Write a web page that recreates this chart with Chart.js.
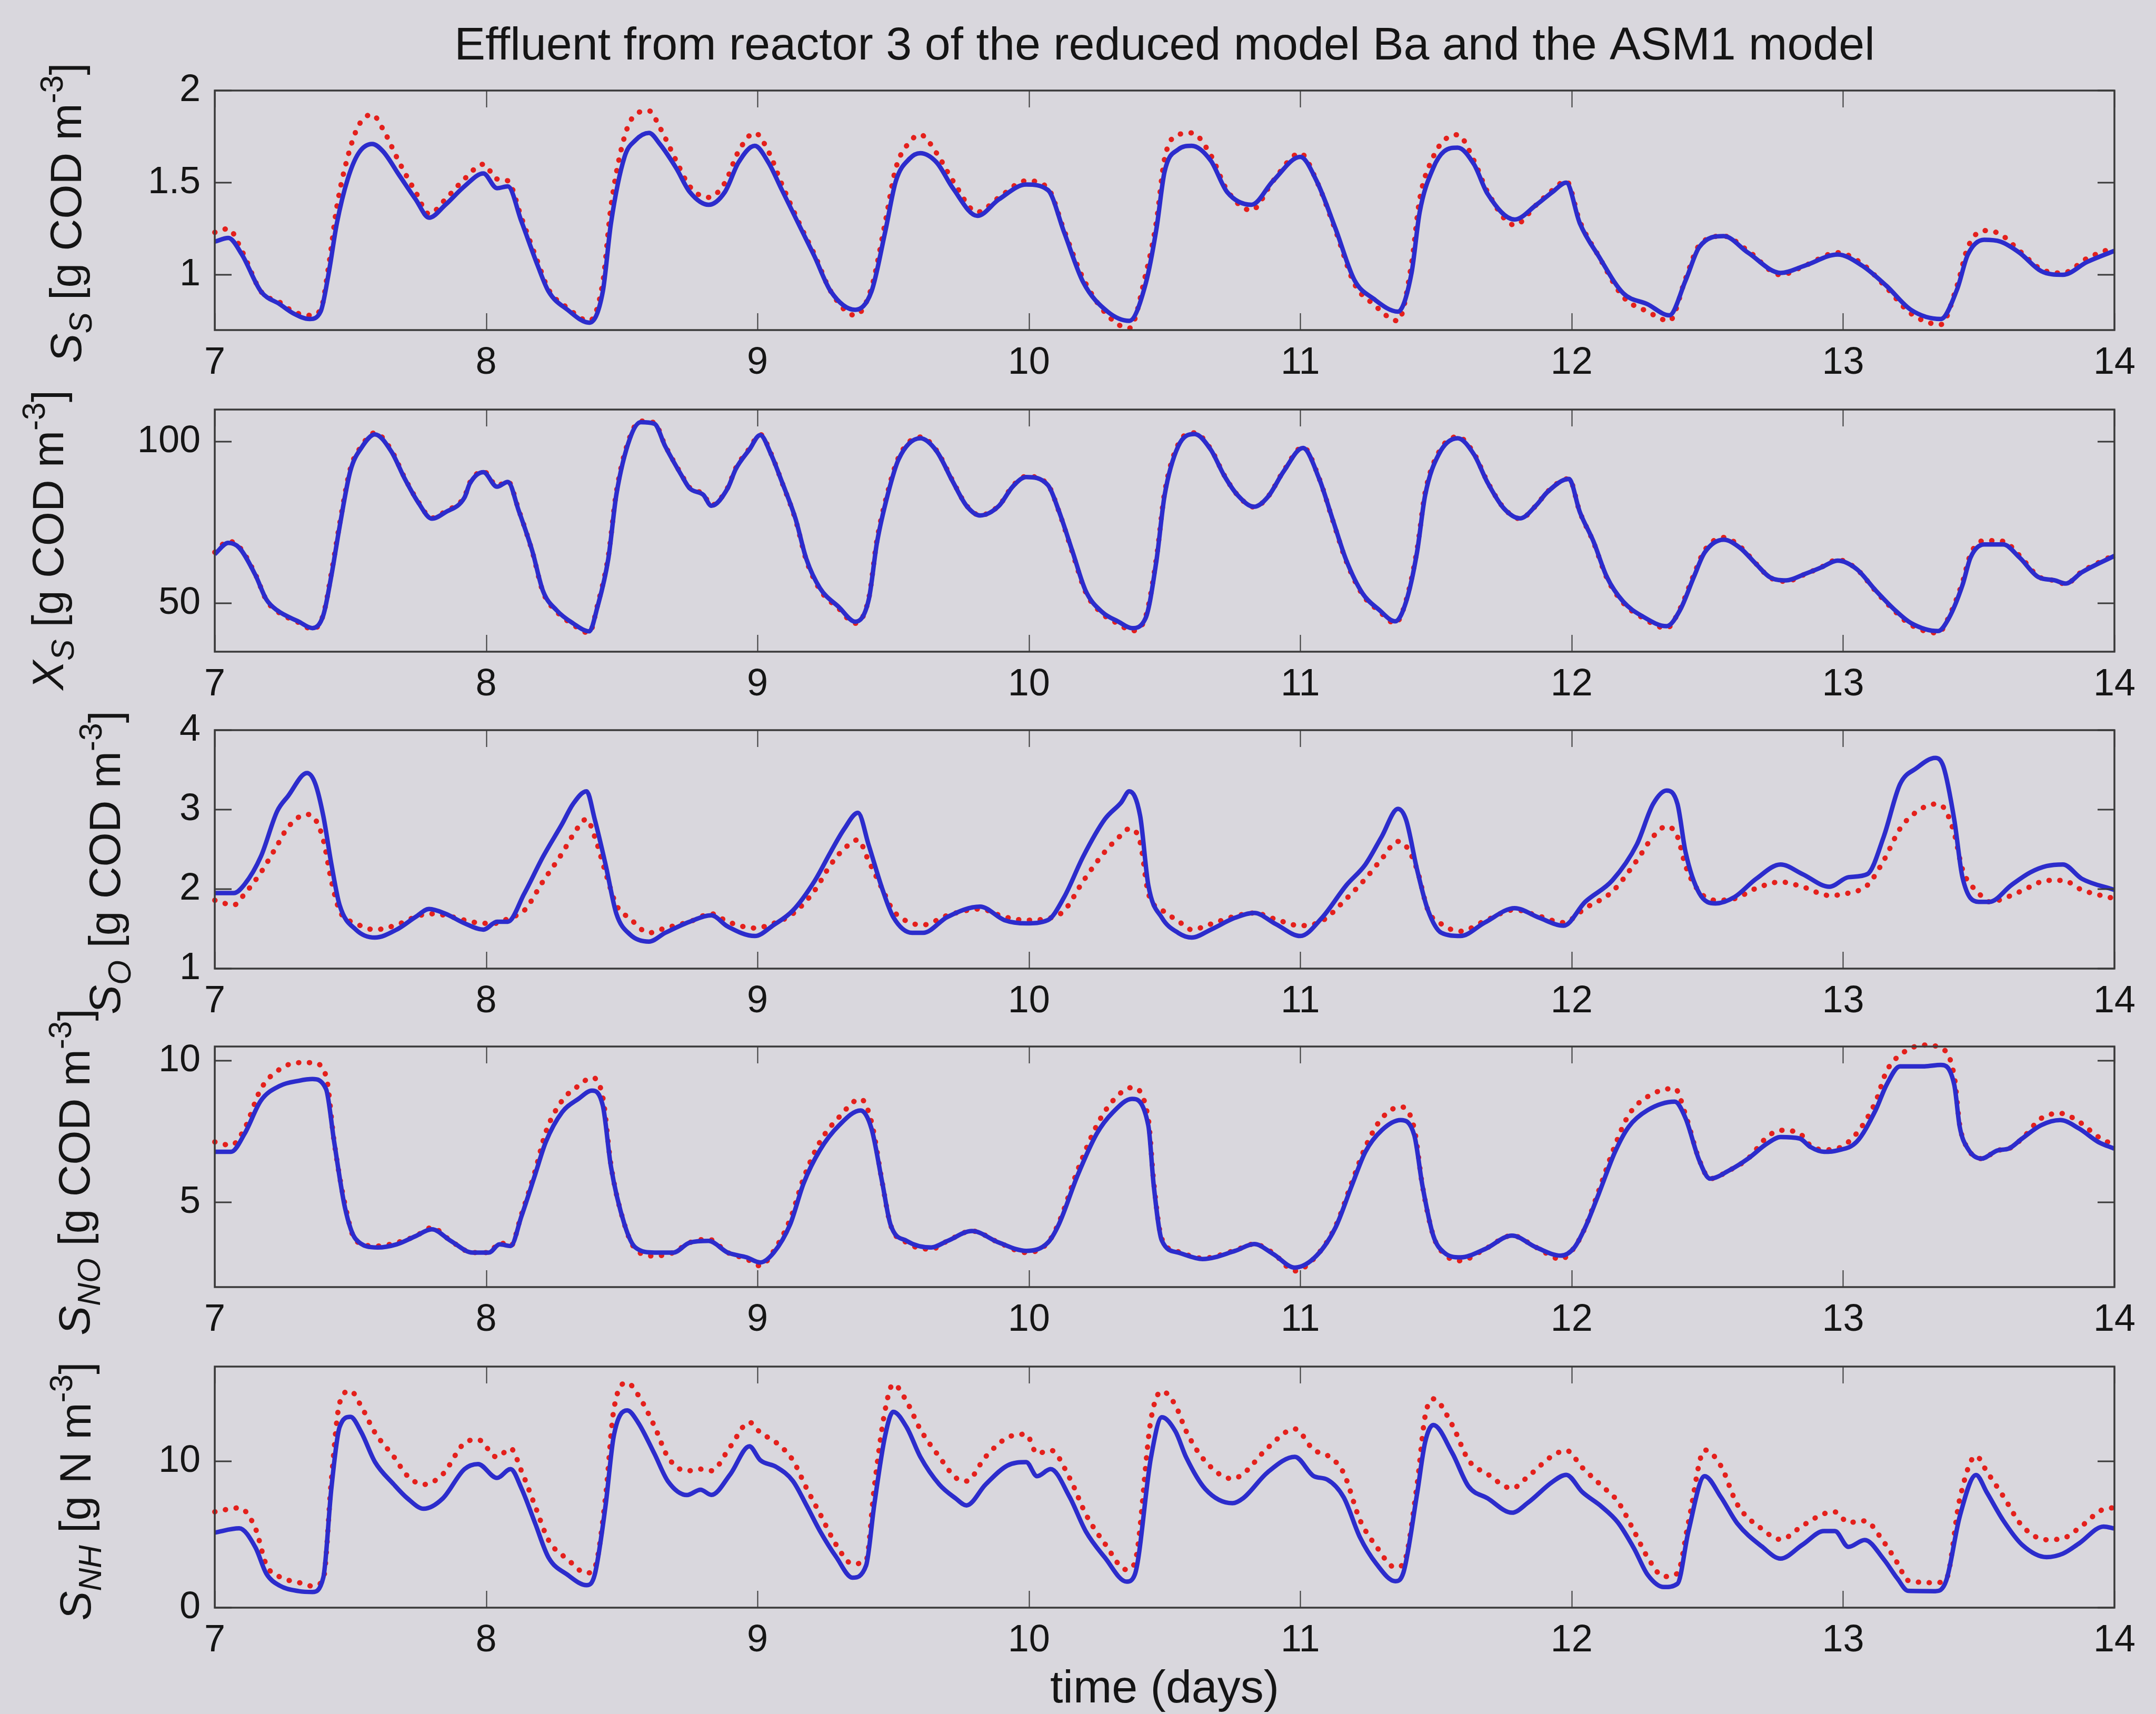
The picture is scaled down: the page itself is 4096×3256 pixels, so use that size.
<!DOCTYPE html>
<html>
<head>
<meta charset="utf-8">
<title>Effluent from reactor 3</title>
<script src="https://cdn.jsdelivr.net/npm/chart.js@4.4.1/dist/chart.umd.min.js"></script>
<style>
  html, body { margin: 0; padding: 0; background: #d9d7dd; }
  body { width: 4096px; height: 3256px; position: relative; overflow: hidden; }
  canvas { position: absolute; left: 0; }
</style>
</head>
<body>
<canvas id="panel-ss"></canvas>
<canvas id="panel-xs"></canvas>
<canvas id="panel-so"></canvas>
<canvas id="panel-sno"></canvas>
<canvas id="panel-snh"></canvas>
<script>
// ---- S_S : readily biodegradable substrate ----
const ssTime = [7.00, 7.05, 7.10, 7.17, 7.24, 7.29, 7.35, 7.39, 7.42, 7.45,
  7.49, 7.53, 7.58, 7.62, 7.68, 7.74, 7.79, 7.85, 7.92, 7.99,
  8.04, 8.08, 8.13, 8.19, 8.23, 8.30, 8.38, 8.43, 8.46, 8.51,
  8.55, 8.60, 8.64, 8.70, 8.75, 8.82, 8.88, 8.93, 8.99, 9.04,
  9.09, 9.16, 9.21, 9.27, 9.36, 9.42, 9.47, 9.51, 9.56, 9.60,
  9.66, 9.72, 9.81, 9.89, 9.99, 10.07, 10.13, 10.20, 10.29, 10.37,
  10.43, 10.47, 10.50, 10.55, 10.60, 10.67, 10.73, 10.82, 10.90, 11.00,
  11.06, 11.13, 11.20, 11.27, 11.36, 11.41, 11.44, 11.49, 11.53, 11.58,
  11.64, 11.69, 11.79, 11.87, 11.93, 11.98, 12.03, 12.10, 12.19, 12.28,
  12.36, 12.42, 12.47, 12.56, 12.65, 12.77, 12.86, 12.98, 13.07, 13.16,
  13.25, 13.36, 13.42, 13.46, 13.52, 13.58, 13.65, 13.73, 13.81, 13.90,
  14.00];
const ssBlue = [1.18, 1.20, 1.11, 0.91, 0.84, 0.79, 0.76, 0.80, 1.01, 1.28,
  1.52, 1.66, 1.71, 1.67, 1.54, 1.41, 1.31, 1.38, 1.48, 1.55,
  1.47, 1.48, 1.29, 1.05, 0.91, 0.81, 0.74, 0.91, 1.28, 1.64,
  1.73, 1.77, 1.71, 1.58, 1.45, 1.38, 1.45, 1.61, 1.70, 1.61,
  1.46, 1.25, 1.10, 0.91, 0.81, 0.91, 1.23, 1.51, 1.63, 1.66,
  1.61, 1.47, 1.32, 1.41, 1.49, 1.46, 1.23, 0.96, 0.80, 0.75,
  0.95, 1.25, 1.56, 1.68, 1.70, 1.62, 1.45, 1.38, 1.51, 1.64,
  1.51, 1.25, 0.97, 0.87, 0.80, 1.01, 1.34, 1.58, 1.67, 1.69,
  1.60, 1.44, 1.30, 1.38, 1.45, 1.50, 1.28, 1.10, 0.90, 0.84,
  0.78, 0.97, 1.15, 1.21, 1.12, 1.01, 1.05, 1.11, 1.05, 0.94,
  0.81, 0.76, 0.92, 1.11, 1.19, 1.18, 1.12, 1.02, 1.00, 1.07,
  1.13];
const ssRed = [1.23, 1.25, 1.13, 0.91, 0.85, 0.80, 0.78, 0.81, 1.05, 1.37,
  1.64, 1.81, 1.87, 1.79, 1.61, 1.45, 1.33, 1.41, 1.52, 1.60,
  1.52, 1.51, 1.31, 1.07, 0.92, 0.82, 0.75, 0.96, 1.37, 1.75,
  1.87, 1.89, 1.80, 1.62, 1.48, 1.42, 1.50, 1.67, 1.77, 1.67,
  1.49, 1.26, 1.11, 0.91, 0.78, 0.93, 1.28, 1.58, 1.72, 1.76,
  1.66, 1.51, 1.34, 1.42, 1.51, 1.47, 1.24, 0.98, 0.78, 0.71,
  1.00, 1.29, 1.63, 1.76, 1.77, 1.65, 1.46, 1.35, 1.51, 1.66,
  1.51, 1.24, 0.95, 0.84, 0.75, 1.06, 1.41, 1.64, 1.73, 1.76,
  1.62, 1.45, 1.27, 1.38, 1.46, 1.51, 1.29, 1.10, 0.88, 0.80,
  0.75, 0.98, 1.16, 1.21, 1.13, 1.00, 1.05, 1.12, 1.06, 0.93,
  0.79, 0.73, 0.94, 1.15, 1.24, 1.22, 1.13, 1.03, 1.01, 1.09,
  1.15];
const ssTicks = [1, 1.5, 2];

// ---- X_S : slowly biodegradable substrate ----
const xsTime = [7.00, 7.05, 7.09, 7.15, 7.19, 7.23, 7.31, 7.36, 7.40, 7.43,
  7.46, 7.50, 7.54, 7.59, 7.65, 7.70, 7.75, 7.80, 7.85, 7.92,
  7.94, 7.99, 8.04, 8.08, 8.12, 8.17, 8.21, 8.26, 8.32, 8.38,
  8.41, 8.45, 8.48, 8.53, 8.57, 8.62, 8.66, 8.72, 8.75, 8.80,
  8.83, 8.89, 8.92, 8.97, 9.01, 9.05, 9.09, 9.14, 9.18, 9.23,
  9.30, 9.36, 9.41, 9.44, 9.48, 9.52, 9.60, 9.66, 9.72, 9.77,
  9.82, 9.89, 9.94, 9.99, 10.07, 10.11, 10.16, 10.21, 10.27, 10.33,
  10.38, 10.43, 10.47, 10.50, 10.55, 10.61, 10.67, 10.72, 10.77, 10.83,
  10.88, 10.94, 11.01, 11.07, 11.12, 11.17, 11.23, 11.29, 11.35, 11.39,
  11.43, 11.46, 11.51, 11.58, 11.64, 11.69, 11.75, 11.81, 11.87, 11.91,
  11.99, 12.03, 12.08, 12.13, 12.19, 12.26, 12.35, 12.40, 12.45, 12.49,
  12.56, 12.62, 12.68, 12.73, 12.79, 12.86, 12.92, 12.98, 13.05, 13.12,
  13.19, 13.25, 13.35, 13.39, 13.44, 13.47, 13.52, 13.59, 13.65, 13.72,
  13.78, 13.82, 13.88, 14.00];
const xsBlue = [65.2, 68.7, 67.2, 58.7, 51.2, 47.8, 44.3, 42.3, 46.3, 58.7,
  73.7, 91.1, 98.1, 102.3, 97.1, 88.6, 81.2, 76.2, 78.2, 82.7,
  87.1, 90.6, 86.1, 87.6, 78.7, 66.2, 53.7, 47.8, 43.8, 41.3,
  48.8, 63.7, 83.7, 101.1, 106.1, 105.6, 98.6, 89.6, 85.6, 83.6,
  80.2, 85.6, 91.6, 97.6, 102.1, 96.1, 87.6, 76.2, 63.7, 54.7,
  48.8, 44.3, 51.2, 68.7, 83.7, 94.6, 101.1, 97.1, 87.6, 80.2,
  77.2, 80.2, 86.1, 89.1, 86.6, 78.7, 66.2, 53.7, 47.3, 44.3,
  42.3, 45.4, 63.2, 83.4, 98.6, 102.4, 97.6, 89.5, 83.4, 79.9,
  82.9, 91.0, 98.1, 88.5, 75.8, 63.2, 53.0, 48.0, 44.4, 50.5,
  65.7, 83.4, 96.1, 101.1, 96.1, 87.4, 79.4, 76.3, 80.4, 84.4,
  88.5, 78.3, 69.2, 58.1, 50.5, 46.0, 42.9, 48.0, 58.1, 65.7,
  69.7, 67.2, 62.1, 58.1, 57.1, 59.1, 61.1, 63.2, 60.6, 54.0,
  48.0, 43.9, 41.4, 45.4, 55.6, 64.2, 68.2, 68.2, 64.2, 58.1,
  57.1, 56.1, 59.6, 64.7];
const xsRed = [65.8, 69.2, 67.5, 58.9, 51.0, 47.5, 44.0, 42.0, 46.5, 59.5,
  74.5, 91.8, 98.6, 102.8, 97.5, 88.8, 81.4, 76.4, 78.5, 83.0,
  87.4, 90.9, 86.4, 87.8, 78.9, 66.0, 53.4, 47.4, 43.4, 40.8,
  49.3, 64.5, 84.5, 101.6, 106.4, 105.9, 98.8, 89.8, 85.8, 83.8,
  80.4, 85.8, 91.9, 97.9, 102.3, 96.3, 87.5, 75.9, 63.3, 54.2,
  48.3, 43.8, 51.6, 69.5, 84.5, 95.2, 101.5, 97.3, 87.8, 80.3,
  77.3, 80.3, 86.3, 89.3, 86.7, 78.6, 65.8, 53.3, 46.8, 43.6,
  41.5, 45.8, 64.0, 84.2, 99.2, 102.8, 97.8, 89.6, 83.4, 79.8,
  82.9, 91.2, 98.4, 88.6, 75.6, 62.9, 52.6, 47.6, 43.8, 50.9,
  66.5, 84.2, 96.7, 101.6, 96.4, 87.6, 79.5, 76.2, 80.4, 84.5,
  88.6, 78.3, 69.0, 57.8, 50.1, 45.6, 42.3, 48.4, 58.8, 66.4,
  70.4, 67.6, 62.2, 58.0, 56.8, 59.0, 61.2, 63.5, 60.6, 53.8,
  47.6, 43.3, 40.8, 45.8, 56.5, 65.2, 69.4, 69.2, 64.8, 58.3,
  57.0, 56.0, 59.8, 65.0];
const xsTicks = [50, 100];

// ---- S_O : dissolved oxygen ----
const soTime = [7.00, 7.07, 7.11, 7.17, 7.23, 7.27, 7.34, 7.37, 7.40, 7.43,
  7.46, 7.52, 7.59, 7.67, 7.74, 7.79, 7.85, 7.92, 7.99, 8.04,
  8.08, 8.14, 8.21, 8.28, 8.32, 8.37, 8.40, 8.44, 8.48, 8.53,
  8.60, 8.66, 8.75, 8.83, 8.89, 8.99, 9.06, 9.13, 9.21, 9.27,
  9.32, 9.37, 9.41, 9.46, 9.50, 9.57, 9.61, 9.70, 9.82, 9.91,
  9.99, 10.07, 10.13, 10.20, 10.28, 10.34, 10.37, 10.41, 10.44, 10.49,
  10.55, 10.60, 10.67, 10.76, 10.83, 10.91, 11.00, 11.08, 11.17, 11.24,
  11.30, 11.36, 11.39, 11.43, 11.47, 11.52, 11.59, 11.68, 11.79, 11.88,
  11.97, 12.05, 12.15, 12.24, 12.30, 12.35, 12.39, 12.42, 12.47, 12.53,
  12.60, 12.68, 12.77, 12.85, 12.95, 13.02, 13.09, 13.15, 13.21, 13.27,
  13.34, 13.37, 13.41, 13.44, 13.50, 13.54, 13.62, 13.69, 13.75, 13.81,
  13.88, 14.00];
const soBlue = [1.95, 1.95, 2.06, 2.41, 2.98, 3.17, 3.46, 3.33, 2.92, 2.31,
  1.80, 1.49, 1.39, 1.49, 1.65, 1.75, 1.69, 1.57, 1.49, 1.59,
  1.59, 1.94, 2.41, 2.82, 3.07, 3.23, 2.88, 2.31, 1.69, 1.43,
  1.34, 1.45, 1.59, 1.67, 1.53, 1.41, 1.55, 1.73, 2.10, 2.47,
  2.76, 2.96, 2.55, 2.00, 1.65, 1.45, 1.45, 1.65, 1.78, 1.61,
  1.57, 1.61, 1.90, 2.41, 2.88, 3.09, 3.23, 2.92, 2.05, 1.64,
  1.45, 1.39, 1.49, 1.64, 1.70, 1.56, 1.41, 1.64, 2.05, 2.31,
  2.66, 3.01, 2.87, 2.25, 1.74, 1.45, 1.41, 1.58, 1.76, 1.64,
  1.54, 1.84, 2.11, 2.56, 3.07, 3.24, 3.07, 2.46, 1.95, 1.82,
  1.90, 2.13, 2.31, 2.19, 2.03, 2.15, 2.19, 2.66, 3.32, 3.52,
  3.65, 3.54, 2.87, 2.15, 1.84, 1.84, 2.05, 2.21, 2.29, 2.31,
  2.13, 1.99];
const soRed = [1.86, 1.80, 1.94, 2.21, 2.55, 2.78, 2.94, 2.88, 2.62, 2.10,
  1.73, 1.57, 1.49, 1.55, 1.65, 1.69, 1.67, 1.61, 1.57, 1.57,
  1.63, 1.73, 2.10, 2.45, 2.68, 2.88, 2.66, 2.21, 1.80, 1.63,
  1.45, 1.51, 1.59, 1.69, 1.59, 1.51, 1.57, 1.69, 1.98, 2.31,
  2.51, 2.62, 2.35, 2.00, 1.73, 1.57, 1.55, 1.67, 1.75, 1.65,
  1.61, 1.63, 1.73, 2.10, 2.47, 2.68, 2.76, 2.59, 1.95, 1.74,
  1.60, 1.49, 1.56, 1.66, 1.70, 1.62, 1.54, 1.60, 1.88, 2.13,
  2.38, 2.60, 2.54, 2.25, 1.74, 1.56, 1.47, 1.60, 1.74, 1.66,
  1.58, 1.76, 1.97, 2.36, 2.66, 2.79, 2.66, 2.29, 1.97, 1.86,
  1.88, 2.01, 2.09, 2.03, 1.92, 1.95, 2.05, 2.36, 2.76, 2.97,
  3.07, 3.03, 2.70, 2.25, 1.95, 1.84, 1.92, 2.03, 2.11, 2.11,
  1.99, 1.88];
const soTicks = [1, 2, 3, 4];

// ---- S_NO : nitrate ----
const snoTime = [7.00, 7.06, 7.11, 7.17, 7.24, 7.31, 7.36, 7.41, 7.44, 7.48,
  7.52, 7.60, 7.67, 7.74, 7.80, 7.87, 7.95, 8.01, 8.05, 8.09,
  8.13, 8.18, 8.22, 8.28, 8.34, 8.39, 8.43, 8.46, 8.51, 8.55,
  8.62, 8.69, 8.75, 8.82, 8.89, 8.96, 9.01, 9.06, 9.12, 9.17,
  9.23, 9.30, 9.38, 9.42, 9.46, 9.49, 9.55, 9.64, 9.70, 9.79,
  9.89, 9.99, 10.07, 10.11, 10.18, 10.25, 10.31, 10.38, 10.44, 10.46,
  10.49, 10.55, 10.64, 10.76, 10.83, 10.90, 10.98, 11.06, 11.13, 11.19,
  11.24, 11.30, 11.37, 11.42, 11.45, 11.49, 11.53, 11.59, 11.68, 11.78,
  11.87, 11.96, 12.01, 12.05, 12.10, 12.16, 12.21, 12.28, 12.38, 12.42,
  12.47, 12.51, 12.58, 12.65, 12.72, 12.77, 12.84, 12.88, 12.93, 12.98,
  13.05, 13.12, 13.16, 13.21, 13.30, 13.36, 13.41, 13.43, 13.46, 13.51,
  13.57, 13.61, 13.66, 13.73, 13.80, 13.87, 13.94, 14.00];
const snoBlue = [6.78, 6.78, 7.42, 8.59, 9.11, 9.29, 9.35, 9.00, 7.13, 4.80,
  3.69, 3.40, 3.51, 3.80, 4.04, 3.63, 3.22, 3.22, 3.51, 3.45,
  4.50, 5.96, 7.13, 8.18, 8.65, 8.94, 8.41, 6.25, 4.21, 3.40,
  3.22, 3.22, 3.57, 3.63, 3.22, 3.05, 2.87, 3.22, 4.21, 5.67,
  6.84, 7.71, 8.24, 7.60, 5.67, 4.21, 3.63, 3.40, 3.63, 3.98,
  3.57, 3.28, 3.57, 4.21, 5.96, 7.42, 8.18, 8.65, 7.71, 5.59,
  3.64, 3.22, 2.99, 3.28, 3.52, 3.17, 2.69, 3.11, 4.11, 5.59,
  6.78, 7.54, 7.90, 7.37, 5.59, 3.82, 3.22, 3.05, 3.34, 3.82,
  3.40, 3.11, 3.40, 4.11, 5.30, 6.78, 7.66, 8.25, 8.55, 7.96,
  6.48, 5.83, 6.12, 6.54, 7.07, 7.30, 7.25, 6.95, 6.78, 6.83,
  7.13, 8.25, 9.14, 9.80, 9.80, 9.85, 9.14, 7.66, 6.89, 6.54,
  6.83, 6.89, 7.25, 7.72, 7.90, 7.60, 7.13, 6.89];
const snoRed = [7.13, 7.01, 7.60, 9.00, 9.70, 9.93, 9.93, 9.46, 7.13, 4.91,
  3.63, 3.45, 3.57, 3.80, 4.10, 3.63, 3.22, 3.22, 3.57, 3.45,
  4.56, 6.08, 7.48, 8.59, 9.11, 9.40, 8.70, 6.31, 4.21, 3.34,
  3.10, 3.22, 3.57, 3.69, 3.22, 2.99, 2.75, 3.28, 4.39, 5.85,
  7.13, 8.00, 8.65, 7.83, 5.67, 4.21, 3.57, 3.34, 3.63, 3.98,
  3.57, 3.22, 3.57, 4.27, 6.14, 7.71, 8.59, 9.05, 7.94, 5.70,
  3.70, 3.25, 3.02, 3.30, 3.52, 3.20, 2.57, 3.11, 4.15, 5.70,
  6.95, 7.96, 8.37, 7.60, 5.59, 3.82, 3.17, 2.93, 3.34, 3.82,
  3.40, 2.99, 3.40, 4.11, 5.41, 7.01, 8.08, 8.73, 9.02, 8.08,
  6.50, 5.83, 6.12, 6.54, 7.30, 7.54, 7.43, 7.00, 6.85, 6.90,
  7.43, 8.55, 9.62, 10.20, 10.55, 10.45, 9.44, 7.72, 6.89, 6.54,
  6.83, 6.89, 7.25, 7.96, 8.14, 7.84, 7.31, 7.01];
const snoTicks = [5, 10];

// ---- S_NH : ammonium ----
const snhTime = [7.00, 7.09, 7.15, 7.19, 7.24, 7.31, 7.36, 7.40, 7.43, 7.46,
  7.50, 7.54, 7.59, 7.66, 7.71, 7.77, 7.84, 7.92, 7.97, 8.04,
  8.09, 8.13, 8.18, 8.23, 8.30, 8.37, 8.40, 8.44, 8.47, 8.52,
  8.56, 8.62, 8.67, 8.74, 8.79, 8.83, 8.90, 8.97, 9.01, 9.07,
  9.13, 9.18, 9.23, 9.29, 9.35, 9.40, 9.43, 9.47, 9.50, 9.55,
  9.60, 9.67, 9.73, 9.77, 9.84, 9.92, 9.99, 10.03, 10.08, 10.15,
  10.21, 10.28, 10.36, 10.39, 10.45, 10.49, 10.54, 10.58, 10.65, 10.75,
  10.79, 10.88, 10.98, 11.05, 11.10, 11.16, 11.22, 11.28, 11.35, 11.38,
  11.43, 11.46, 11.49, 11.56, 11.62, 11.69, 11.78, 11.84, 11.93, 11.98,
  12.04, 12.11, 12.17, 12.23, 12.28, 12.34, 12.39, 12.43, 12.49, 12.55,
  12.61, 12.70, 12.77, 12.85, 12.93, 12.97, 13.02, 13.08, 13.15, 13.20,
  13.24, 13.34, 13.38, 13.43, 13.49, 13.53, 13.59, 13.66, 13.75, 13.81,
  13.87, 13.96, 14.00];
const snhBlue = [5.14, 5.43, 4.12, 2.33, 1.50, 1.13, 1.07, 2.06, 8.22, 12.36,
  13.06, 12.00, 9.98, 8.43, 7.48, 6.77, 7.47, 9.48, 9.83, 8.88,
  9.48, 8.17, 5.80, 3.43, 2.25, 1.54, 2.25, 6.98, 11.72, 13.50,
  12.67, 10.54, 8.65, 7.71, 8.07, 7.72, 9.14, 11.04, 10.10, 9.62,
  8.68, 7.02, 5.25, 3.47, 2.05, 2.88, 7.02, 11.75, 13.40, 12.33,
  10.32, 8.43, 7.48, 7.00, 8.42, 9.72, 9.96, 9.00, 9.48, 7.58,
  5.21, 3.43, 1.78, 2.25, 10.30, 13.03, 12.06, 10.27, 8.12, 7.15,
  7.50, 9.27, 10.32, 9.00, 8.76, 7.55, 4.81, 3.01, 1.81, 2.40,
  7.75, 11.32, 12.50, 10.59, 8.30, 7.49, 6.50, 7.20, 8.62, 9.09,
  7.90, 6.92, 5.84, 4.05, 2.25, 1.41, 1.64, 5.20, 9.00, 7.57,
  5.77, 4.20, 3.36, 4.30, 5.24, 5.24, 4.16, 4.63, 3.31, 2.00,
  1.15, 1.13, 1.84, 6.24, 9.08, 7.88, 5.98, 4.30, 3.46, 3.70,
  4.40, 5.55, 5.42];
const snhRed = [6.56, 6.83, 5.42, 2.93, 2.10, 1.72, 1.48, 1.95, 8.81, 14.00,
  14.84, 13.77, 11.99, 10.33, 9.02, 8.43, 9.13, 11.26, 11.50, 10.30,
  10.90, 9.36, 6.98, 4.62, 3.31, 2.37, 2.73, 7.57, 13.50, 15.39,
  14.56, 12.43, 10.30, 9.36, 9.48, 9.37, 11.03, 12.69, 11.99, 11.28,
  10.10, 8.20, 6.43, 4.30, 3.00, 3.23, 8.20, 13.50, 15.30, 14.10,
  12.20, 10.32, 8.90, 8.66, 10.32, 11.63, 11.87, 10.55, 10.78, 8.88,
  6.39, 4.38, 2.60, 3.07, 12.90, 14.82, 13.85, 12.06, 10.02, 8.82,
  9.17, 10.94, 12.23, 10.79, 10.42, 9.21, 6.00, 4.20, 2.76, 3.00,
  8.35, 13.10, 14.29, 12.50, 10.10, 9.14, 8.17, 8.99, 10.40, 10.76,
  9.57, 8.35, 7.27, 5.24, 3.44, 2.13, 2.35, 5.80, 10.79, 9.70,
  7.08, 5.40, 4.67, 5.60, 6.43, 6.55, 5.83, 5.94, 4.50, 3.07,
  1.86, 1.71, 1.95, 7.43, 10.39, 9.31, 7.64, 5.60, 4.65, 4.74,
  5.45, 6.74, 6.84];
const snhTicks = [0, 10];

// ---- look ----
const FONT = '"Liberation Sans", Arial, Helvetica, sans-serif';
const TEXT_COLOR = '#151515';
const FRAME_COLOR = '#3a3a3a';
const BLUE = 'rgb(44, 44, 204)';
const RED = 'rgb(228, 32, 28)';

const PLOT_LEFT = 408;
const PLOT_RIGHT = 4017;
const PAD_TOP = 170;
const TICK_LEN = 32;
const TICK_FONT = { family: FONT, size: 72, lineHeight: 1 };
const LABEL_SIZE = 84;

// rotated y label with TeX-like sub/superscripts
function drawYLabel(ctx, parts, x, y, size) {
  const fontFor = (p) => {
    const s = (p.sub || p.sup) ? size * 0.72 : size;
    return (p.it ? 'italic ' : '') + s + 'px ' + FONT;
  };
  ctx.save();
  ctx.translate(x, y);
  ctx.rotate(-Math.PI / 2);
  ctx.fillStyle = TEXT_COLOR;
  ctx.textAlign = 'left';
  ctx.textBaseline = 'alphabetic';
  let total = 0;
  parts.forEach((p) => {
    ctx.font = fontFor(p);
    total += ctx.measureText(p.t).width;
  });
  let cx = -total / 2;
  parts.forEach((p) => {
    ctx.font = fontFor(p);
    const dy = p.sub ? size * 0.24 : (p.sup ? -size * 0.42 : 0);
    ctx.fillText(p.t, cx, dy);
    cx += ctx.measureText(p.t).width;
  });
  ctx.restore();
}

// box around the axes with inward tick marks on all four sides
const axesFrame = {
  id: 'axesFrame',
  afterDatasetsDraw(chart) {
    const { ctx, chartArea: { left, right, top, bottom }, scales: { x, y } } = chart;
    ctx.save();
    ctx.strokeStyle = FRAME_COLOR;
    ctx.lineWidth = 2;
    ctx.beginPath();
    x.ticks.forEach((t) => {
      const px = Math.round(x.getPixelForValue(t.value)) + 0.5;
      ctx.moveTo(px, top);
      ctx.lineTo(px, top + TICK_LEN);
      ctx.moveTo(px, bottom);
      ctx.lineTo(px, bottom - TICK_LEN);
    });
    ctx.stroke();
    ctx.lineWidth = 3;
    ctx.beginPath();
    y.ticks.forEach((t) => {
      const py = Math.round(y.getPixelForValue(t.value));
      ctx.moveTo(left, py);
      ctx.lineTo(left + TICK_LEN, py);
      ctx.moveTo(right, py);
      ctx.lineTo(right - TICK_LEN, py);
    });
    ctx.stroke();
    ctx.lineWidth = 3.5;
    ctx.strokeRect(left, top, right - left, bottom - top);
    ctx.restore();
  },
};

// axis titles and the figure title
const panelText = {
  id: 'panelText',
  afterDraw(chart, args, opts) {
    const { ctx, chartArea: { left, right, top, bottom } } = chart;
    const mid = (left + right) / 2;
    if (opts.yLabel) {
      drawYLabel(ctx, opts.yLabel, opts.yLabelX, (top + bottom) / 2 + opts.yLabelShift, LABEL_SIZE);
    }
    ctx.save();
    ctx.fillStyle = TEXT_COLOR;
    ctx.textAlign = 'center';
    ctx.textBaseline = 'alphabetic';
    ctx.font = '88px ' + FONT;
    if (opts.title) ctx.fillText(opts.title, mid, top - 59);
    if (opts.xLabel) ctx.fillText(opts.xLabel, mid, bottom + 180);
    ctx.restore();
  },
};

function toPoints(time, values) {
  return time.map((t, i) => ({ x: t, y: values[i] }));
}

function makePanel(id, cfg) {
  const canvas = document.getElementById(id);
  canvas.width = 4096;
  canvas.height = PAD_TOP + cfg.height + cfg.axisHeight;
  canvas.style.top = (cfg.top - PAD_TOP) + 'px';

  return new Chart(canvas, {
    type: 'line',
    data: {
      datasets: [
        {
          label: 'reduced model',
          data: toPoints(cfg.time, cfg.blue),
          borderColor: BLUE,
          borderWidth: 8.5,
          borderJoinStyle: 'round',
          cubicInterpolationMode: 'monotone',
          pointRadius: 0,
          clip: 12,
          order: 0,
        },
        {
          label: 'ASM1',
          data: toPoints(cfg.time, cfg.red),
          borderColor: RED,
          borderWidth: 10,
          borderDash: [0.5, 20],
          borderCapStyle: 'round',
          cubicInterpolationMode: 'monotone',
          pointRadius: 0,
          clip: 12,
          order: 1,
        },
      ],
    },
    options: {
      responsive: false,
      animation: false,
      devicePixelRatio: 1,
      events: [],
      layout: { padding: { left: 0, right: 4096 - PLOT_RIGHT, top: PAD_TOP, bottom: 0 } },
      scales: {
        x: {
          type: 'linear',
          min: 7,
          max: 14,
          grid: { display: false, drawTicks: false },
          border: { display: false },
          ticks: {
            stepSize: 1,
            autoSkip: false,
            maxRotation: 0,
            padding: cfg.xPad,
            font: TICK_FONT,
            color: TEXT_COLOR,
            callback: (v) => String(v),
          },
          afterFit: (scale) => { scale.height = cfg.axisHeight; },
        },
        y: {
          type: 'linear',
          min: cfg.yMin,
          max: cfg.yMax,
          grid: { display: false, drawTicks: false },
          border: { display: false },
          ticks: {
            padding: 27,
            font: TICK_FONT,
            color: TEXT_COLOR,
            callback: (v) => String(v),
          },
          afterBuildTicks: (scale) => { scale.ticks = cfg.yTicks.map((v) => ({ value: v })); },
          afterFit: (scale) => { scale.width = PLOT_LEFT; },
        },
      },
      plugins: {
        legend: { display: false },
        tooltip: { enabled: false },
        panelText: {
          yLabel: cfg.yLabel,
          yLabelX: cfg.yLabelX,
          yLabelShift: cfg.yLabelShift,
          title: cfg.title,
          xLabel: cfg.xLabel,
        },
      },
    },
    plugins: [axesFrame, panelText],
  });
}

const unitCOD = [{ t: ' [g COD m' }, { t: '-3', sup: true }, { t: ']' }];

makePanel('panel-ss', {
  top: 172, height: 455, axisHeight: 180, xPad: 27,
  time: ssTime, blue: ssBlue, red: ssRed,
  yMin: 0.7, yMax: 2, yTicks: ssTicks,
  yLabel: [{ t: 'S', it: true }, { t: 'S', it: true, sub: true }, ...unitCOD],
  yLabelX: 154, yLabelShift: 5,
  title: 'Effluent from reactor 3 of the reduced model Ba and the ASM1 model',
});

makePanel('panel-xs', {
  top: 778, height: 460, axisHeight: 180, xPad: 27,
  time: xsTime, blue: xsBlue, red: xsRed,
  yMin: 35, yMax: 110, yTicks: xsTicks,
  yLabel: [{ t: 'X', it: true }, { t: 'S', it: true, sub: true }, ...unitCOD],
  yLabelX: 120, yLabelShift: 18,
});

makePanel('panel-so', {
  top: 1387, height: 453, axisHeight: 180, xPad: 27,
  time: soTime, blue: soBlue, red: soRed,
  yMin: 1, yMax: 4, yTicks: soTicks,
  yLabel: [{ t: 'S', it: true }, { t: 'O', it: true, sub: true }, ...unitCOD],
  yLabelX: 228, yLabelShift: 25,
});

makePanel('panel-sno', {
  top: 1988, height: 457, axisHeight: 180, xPad: 27,
  time: snoTime, blue: snoBlue, red: snoRed,
  yMin: 2, yMax: 10.5, yTicks: snoTicks,
  yLabel: [{ t: 'S', it: true }, { t: 'NO', it: true, sub: true }, ...unitCOD],
  yLabelX: 170, yLabelShift: 10,
});

makePanel('panel-snh', {
  top: 2596, height: 458, axisHeight: 260, xPad: 27,
  time: snhTime, blue: snhBlue, red: snhRed,
  yMin: 0, yMax: 16.5, yTicks: snhTicks,
  yLabel: [{ t: 'S', it: true }, { t: 'NH', it: true, sub: true },
    { t: ' [g N m' }, { t: '-3', sup: true }, { t: ']' }],
  yLabelX: 172, yLabelShift: 8,
  xLabel: 'time (days)',
});
</script>
</body>
</html>
